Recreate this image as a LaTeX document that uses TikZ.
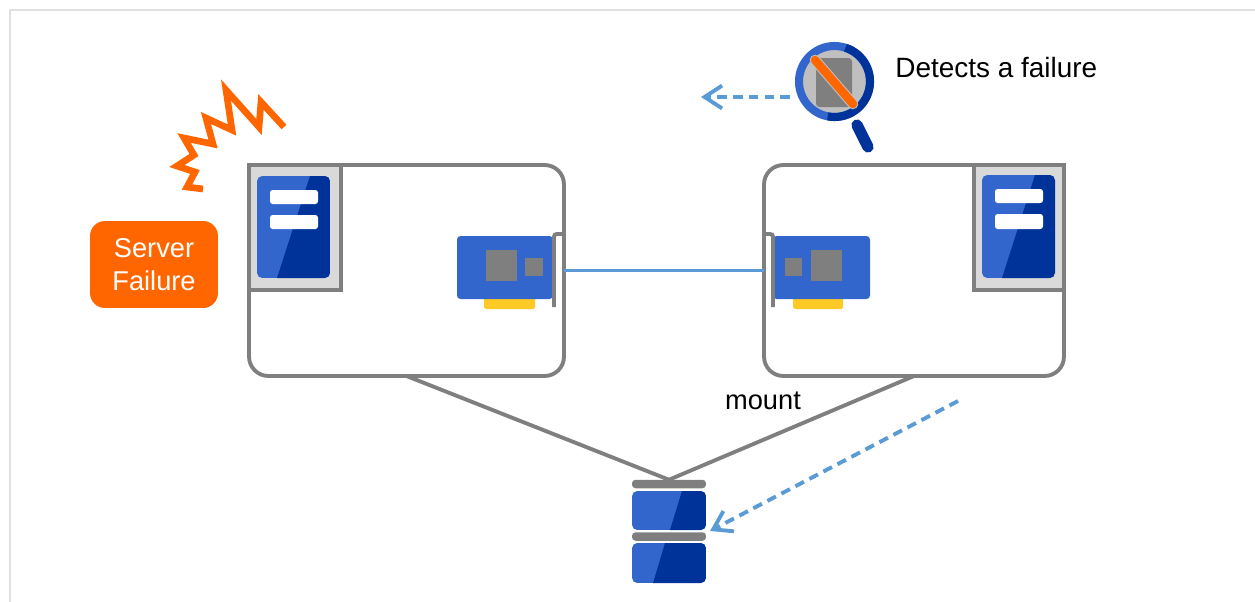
\documentclass[tikz,border=0pt]{standalone}
\usepackage{fontspec}
\setmainfont{Liberation Sans}
\usetikzlibrary{arrows.meta}
\definecolor{panelgray}{HTML}{D9D9D9}
\definecolor{linegray}{HTML}{7F7F7F}
\definecolor{lensgray}{HTML}{BFBFBF}
\definecolor{bluelight}{HTML}{3366CC}
\definecolor{bluedark}{HTML}{003399}
\definecolor{linkblue}{HTML}{5B9BD5}
\definecolor{failorange}{HTML}{FF6600}
\definecolor{goldpin}{HTML}{FFC000}
% slab from corner to corner, dark part right of the slant
\newcommand{\slab}[6]{
    \begin{scope}
        \clip[rounded corners=3pt] (#1,#2) rectangle (#3,#4);
        \fill[bluelight] (#1,#2) rectangle (#3,#4);
        \fill[bluedark] (#5,#2) -- (#3,#2) -- (#3,#4) -- (#6,#4) -- cycle;
    \end{scope}
}
\begin{document}
\begin{tikzpicture}[x=0.02cm, y=-0.02cm,
        hostbox/.style={draw=linegray, line width=2.2pt, fill=white, rounded corners=11pt, inner sep=0pt, outer sep=0pt, minimum height=4.22cm},
        panelbox/.style={draw=linegray, line width=2.2pt, fill=panelgray},
        capbar/.style={fill=linegray, rounded corners=2pt, inner sep=0pt, outer sep=0pt, minimum width=1.48cm, minimum height=0.17cm},
        conn/.style={linegray, line width=2.2pt},
        failarrow/.style={linkblue, line width=2.2pt, dash pattern=on 5.5pt off 3.5pt, -{Straight Barb[length=10pt, width=13pt, line width=2.2pt]}},
        label/.style={font=\fontsize{15.5pt}{18.7pt}\selectfont, inner sep=0pt, align=center}
    ]
    \useasboundingbox (0,0) rectangle (1255,602);
    \draw[black!12, line width=1pt] (10,602) -- (10,10) -- (1255,10);

    % hosts
    \node[hostbox, minimum width=6.3cm] (hostleft) at (406.5,270.5) {};
    \node[hostbox, minimum width=6cm] (hostright) at (914,270.5) {};
    \draw[panelbox] (249,165) rectangle (341,290);
    \draw[panelbox] (974,165) rectangle (1064,290);

    % server icons
    \slab{257}{176}{330}{278}{310}{277}
    \slab{982}{175}{1055}{278}{1035}{1002}
    \fill[white, rounded corners=1.5pt] (270,190) rectangle (318,204);
    \fill[white, rounded corners=1.5pt] (270,215) rectangle (318,229);
    \fill[white, rounded corners=1.5pt] (995,189) rectangle (1043,203);
    \fill[white, rounded corners=1.5pt] (995,214) rectangle (1043,229);

    % network cards
    \fill[goldpin!85!white, rounded corners=1pt] (484,296) rectangle (535,309);
    \fill[goldpin!85!white, rounded corners=1pt] (793,296) rectangle (843,309);
    \fill[bluelight, rounded corners=2pt] (457,236) rectangle (553,299);
    \fill[bluelight, rounded corners=2pt] (773,236) rectangle (870,299);
    \fill[linegray] (486,250) rectangle (517,281);
    \fill[linegray] (525,258) rectangle (543,276);
    \fill[linegray] (811,250) rectangle (842,281);
    \fill[linegray] (785,258) rectangle (802,276);
    \draw[linegray, line width=2.2pt, rounded corners=1.5pt] (554,307) -- (554,234) -- (564,234);
    \draw[linegray, line width=2.2pt, rounded corners=1.5pt] (773,307) -- (773,234) -- (764,234);

    \draw[linkblue, line width=2.2pt] (hostleft.east) -- (hostright.west);

    % storage
    \node[capbar] (diskcap) at (669,484) {};
    \node[capbar] (diskmid) at (669,536.5) {};
    \slab{632}{491}{706}{530}{682}{670}
    \slab{632}{543}{706}{583}{665}{653}

    \draw[conn] (hostleft.south) -- (diskcap.north);
    \draw[conn] (hostright.south) -- (diskcap.north);
    \node[label] (mountlabel) at (763,401) {mount};

    % failure mark
    \draw[failorange, line width=3.8pt, miter limit=4] (284,127) -- (261,102) -- (259,127) -- (226,90) -- (232,130) -- (206,118) -- (213,144) -- (184,138) -- (194,155) -- (177,166) -- (195,172) -- (187,187) -- (203,189);
    \node[fill=failorange, text=white, rounded corners=8.5pt, inner sep=0pt, outer sep=0pt, minimum width=2.56cm, minimum height=1.74cm, label] (failbox) at (154,264.5) {Server\\Failure};

    % magnifier
    \draw[bluedark, line width=6.4pt, line cap=round] (857,125) -- (868,147);
    \fill[lensgray] (834.5,81.5) circle[radius=0.64cm];
    \draw[bluelight, line width=4.6pt] (834.5,81.5) circle[radius=0.71cm];
    \draw[bluedark, line width=4.6pt] ([shift={(72:0.71cm)}]834.5,81.5) arc[start angle=72, end angle=-101, radius=0.71cm];
    \fill[linegray, rounded corners=2pt] (816,58) rectangle (852,107);
    \draw[lensgray, line width=6pt, line cap=round] (815,60) -- (853,104);
    \draw[failorange, line width=4.8pt, line cap=round] (815,60) -- (853,104);
    \node[label, anchor=west, font=\fontsize{15.9pt}{18.7pt}\selectfont] (detectlabel) at (895,68) {Detects a failure};

    % takeover arrows
    \coordinate (watchfrom) at (790,97);
    \coordinate (watchto) at (701,97);
    \coordinate (failfrom) at (958,401);
    \coordinate (failto) at (710,531);
    \draw[failarrow] (watchfrom) -- (watchto);
    \draw[failarrow] (failfrom) -- (failto);
\end{tikzpicture}
\end{document}
